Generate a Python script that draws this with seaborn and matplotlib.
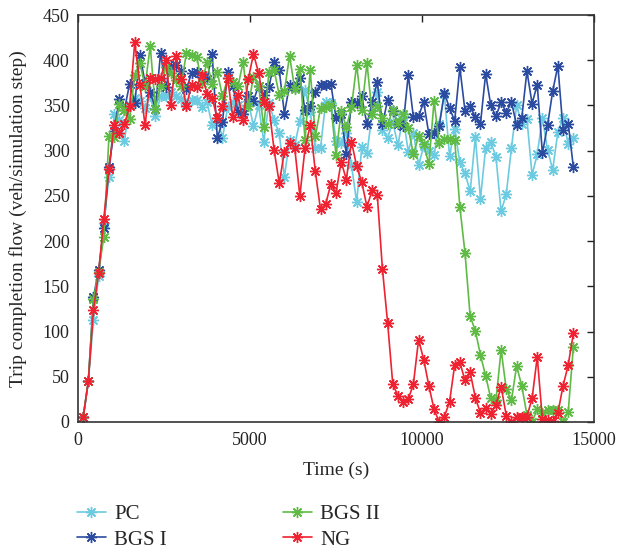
import numpy as np
import pandas as pd
import matplotlib
matplotlib.use("Agg")
import matplotlib.pyplot as plt
import seaborn as sns

time = list(range(150, 14401, 150))

pc = [5, 45, 113, 161, 220, 271, 340, 334, 311, 350,
      358, 355, 347, 360, 338, 360, 360, 365, 360, 357,
      350, 356, 356, 348, 354, 328, 336, 314, 348, 354,
      350, 345, 355, 327, 350, 310, 353, 334, 319, 271,
      312, 306, 333, 367, 343, 303, 303, 354, 353, 311,
      308, 320, 284, 243, 304, 297, 341, 365, 323, 314,
      332, 306, 338, 299, 320, 284, 305, 300, 295, 330,
      363, 294, 324, 287, 275, 255, 315, 247, 303, 310,
      293, 233, 252, 303, 350, 330, 335, 273, 296, 336,
      301, 279, 321, 336, 307, 314]

bgs1 = [5, 45, 138, 168, 215, 282, 322, 357, 345, 374,
        353, 406, 375, 365, 346, 408, 370, 394, 395, 388,
        368, 386, 387, 382, 379, 407, 314, 332, 387, 372,
        343, 340, 360, 355, 372, 362, 370, 398, 389, 341,
        373, 370, 380, 345, 349, 365, 373, 373, 374, 336,
        340, 296, 354, 353, 360, 329, 354, 376, 329, 356,
        344, 330, 327, 384, 337, 338, 354, 318, 320, 327,
        364, 347, 333, 392, 344, 349, 337, 330, 385, 350,
        338, 354, 342, 354, 328, 336, 388, 352, 373, 297,
        328, 366, 394, 323, 330, 282]

bgs2 = [5, 45, 136, 166, 205, 316, 315, 352, 345, 335,
        384, 397, 371, 416, 346, 372, 392, 386, 378, 372,
        408, 406, 404, 375, 398, 374, 387, 360, 380, 376,
        371, 398, 349, 382, 372, 326, 387, 389, 362, 366,
        405, 368, 390, 312, 389, 316, 347, 348, 351, 295,
        344, 326, 348, 395, 345, 397, 341, 349, 336, 329,
        345, 331, 340, 325, 296, 316, 307, 285, 355, 308,
        313, 313, 312, 238, 187, 117, 101, 74, 51, 26,
        24, 80, 36, 24, 62, 40, 8, 0, 14, 10,
        13, 13, 13, 0, 11, 83]

ng = [5, 45, 124, 165, 225, 280, 328, 319, 329, 349,
      420, 373, 328, 380, 379, 380, 400, 350, 405, 379,
      349, 373, 370, 384, 363, 358, 336, 349, 380, 337,
      361, 334, 379, 407, 386, 354, 349, 301, 264, 299,
      308, 303, 250, 303, 328, 277, 235, 241, 263, 253,
      288, 268, 310, 283, 265, 238, 256, 251, 169, 110,
      42, 29, 22, 25, 42, 91, 69, 40, 14, 0,
      6, 22, 63, 66, 46, 55, 27, 10, 16, 9,
      19, 39, 7, 0, 6, 6, 6, 26, 72, 3,
      2, 1, 10, 40, 63, 98]

series_names = ["PC", "BGS I", "BGS II", "NG"]
series_values = [pc, bgs1, bgs2, ng]
colors = ["#6ccbe0", "#2b4ba0", "#5fbb45", "#ee2230"]

sns.set_style("white")
plt.rcParams["font.family"] = ["Liberation Serif", "DejaVu Serif"]

fig = plt.figure(figsize=(6.21, 5.51), dpi=100)
ax = fig.add_axes([78 / 621, 1 - 422 / 551, (594 - 78) / 621, (422 - 15) / 551])

asterisk = (8, 2, 0)
for name, vals, col in zip(series_names, series_values, colors):
    df = pd.DataFrame({"Time": time, "Flow": vals})
    sns.lineplot(data=df, x="Time", y="Flow", ax=ax, color=col, marker=asterisk,
                 markersize=8, markeredgewidth=1.0, markeredgecolor=col,
                 linewidth=1.2, label=name)

ax.set_xlim(0, 15000)
ax.set_ylim(0, 450)
ax.set_xticks([0, 5000, 10000, 15000])
ax.set_yticks(list(range(0, 451, 50)))
ax.tick_params(direction="in", length=5, width=1, labelsize=13, top=True, right=True,
               colors="#222222")
ax.tick_params(axis="x", pad=7)
ax.tick_params(axis="y", pad=6)
for s in ax.spines.values():
    s.set_color("#333333")
    s.set_linewidth(1.2)
ax.set_xlabel("Time (s)", fontsize=14, labelpad=9)
ax.set_ylabel("Trip completion flow (veh/simulation step)", fontsize=14, labelpad=11)

handles, labels = ax.get_legend_handles_labels()
ax.get_legend().remove()
fig.legend(handles, labels, ncol=2, loc="upper left",
           bbox_to_anchor=(58 / 621, 1 - 486 / 551),
           frameon=False, fontsize=15, handlelength=1.4, columnspacing=5.55,
           labelspacing=0.28, handletextpad=0.4, borderpad=0.4)

fig.savefig("out.png", dpi=100)
